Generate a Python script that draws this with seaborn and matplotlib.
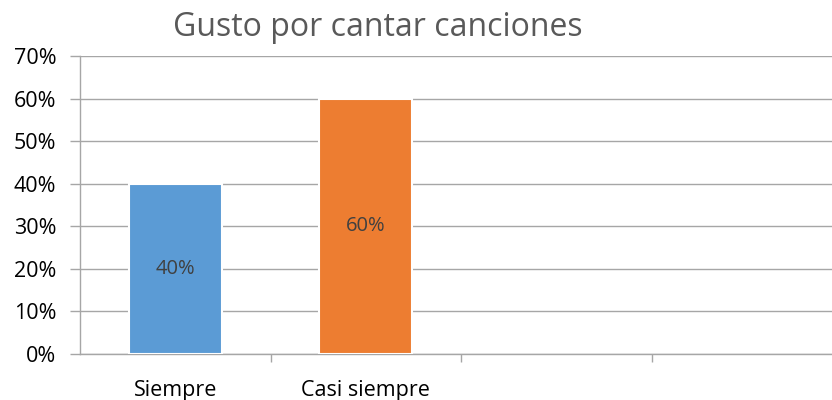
import matplotlib
matplotlib.use("Agg")
import matplotlib.pyplot as plt
import seaborn as sns
import pandas as pd
import numpy as np
from matplotlib.ticker import FixedLocator, PercentFormatter

categories = ["Siempre", "Casi siempre"]
values = [0.40, 0.60]
colors = ["#5B9BD5", "#ED7D31"]
n_slots = 4
title = "Gusto por cantar canciones"

sns.set_theme(style="white")
plt.rcParams['font.family'] = ['Open Sans', 'DejaVu Sans']

df = pd.DataFrame({"cat": categories, "val": values})

fig = plt.figure(figsize=(8.32, 4.0), dpi=100)
ax = fig.add_axes([80/832, 1-354/400, (842-80)/832, (354-56)/400])

sns.barplot(data=df, x="cat", y="val", hue="cat", palette=colors, legend=False,
            saturation=1, width=0.49, ax=ax, edgecolor="white", linewidth=1.5, zorder=3)

ax.set_xlim(-0.5, n_slots - 0.5)
ax.set_ylim(0, 0.70)
ax.yaxis.set_major_locator(FixedLocator(np.arange(0, 0.71, 0.1)))
ax.yaxis.set_major_formatter(PercentFormatter(1.0, decimals=0))
ax.grid(axis="y", color="#A6A6A6", linewidth=1.0, zorder=0)
ax.set_axisbelow(True)

for s in ["top", "right"]:
    ax.spines[s].set_visible(False)
for s in ["left", "bottom"]:
    ax.spines[s].set_color("#A6A6A6")
    ax.spines[s].set_linewidth(1.0)

ax.set_xlabel("")
ax.set_ylabel("")
ax.set_xticks(range(len(categories)))
ax.set_xticklabels(categories)
ax.set_xticks(np.arange(0.5, n_slots - 0.5, 1.0), minor=True)
ax.tick_params(axis="x", which="major", length=0, pad=19, labelsize=15.5, labelcolor="black")
ax.tick_params(axis="x", which="minor", length=6, width=1, color="#A6A6A6", direction="out", bottom=True)
ax.tick_params(axis="y", which="major", length=7, width=1, color="#A6A6A6", direction="out",
               left=True, labelsize=15.5, labelcolor="black", pad=10)

for i, v in enumerate(values):
    ax.text(i, v / 2, f"{v*100:.0f}%", ha="center", va="center", fontsize=14.5,
            color="#404040", zorder=4)

fig.text(378/832, 1-28/400, title, ha="center", va="center", fontsize=23, color="#595959")

fig.savefig("out.png", dpi=100)
